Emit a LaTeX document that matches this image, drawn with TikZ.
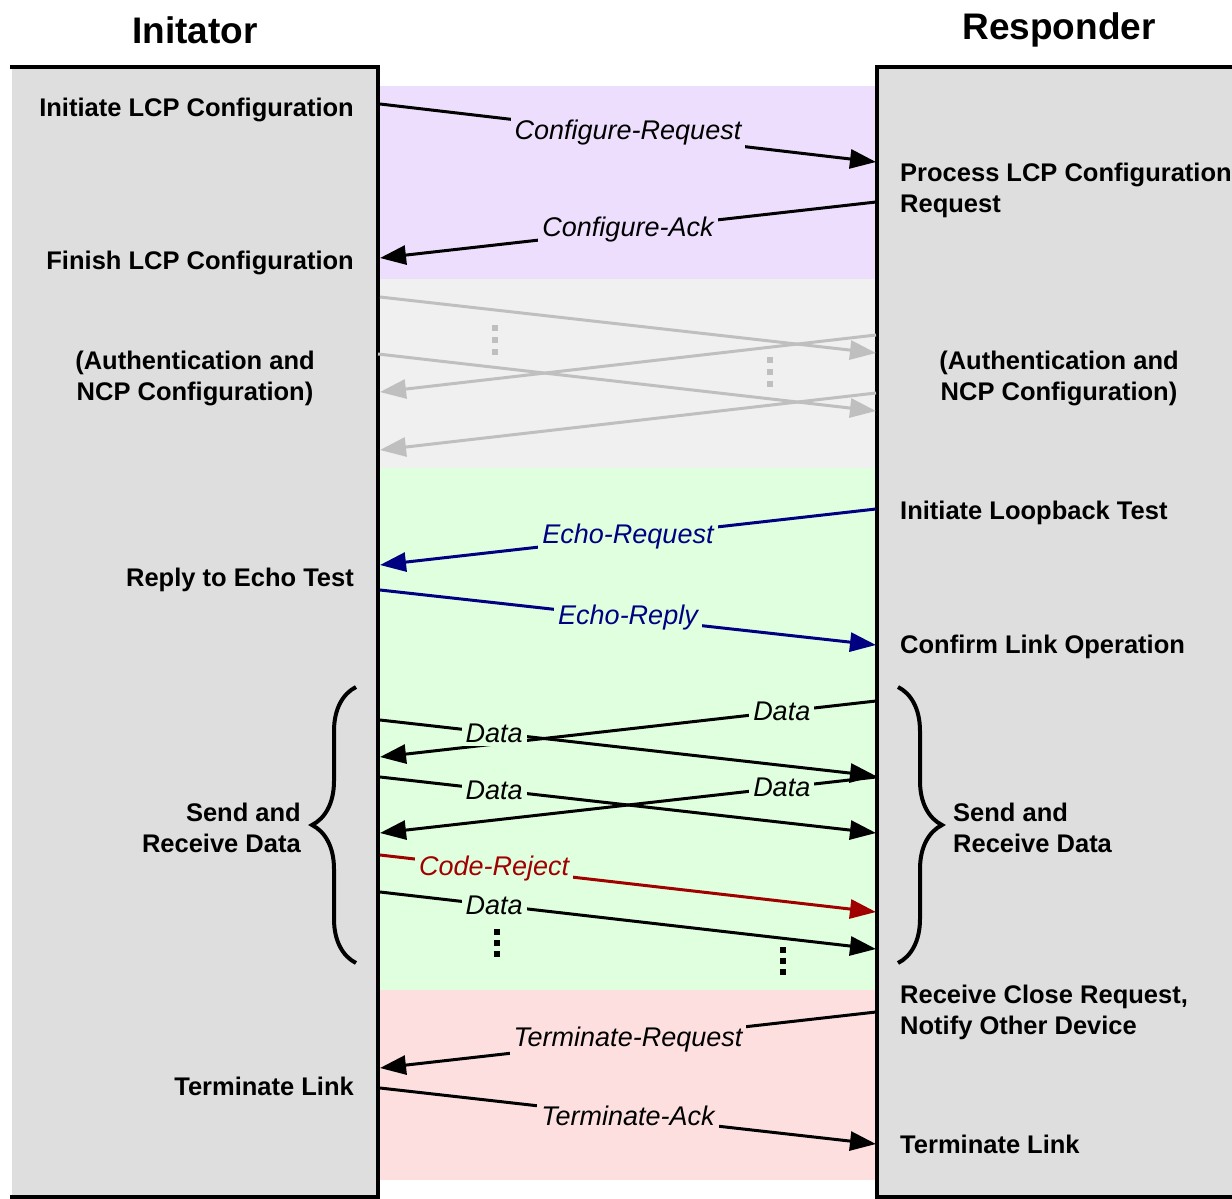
\documentclass[tikz,border=0pt]{standalone}
\usepackage{fontspec}
\setmainfont{Liberation Sans}
\usetikzlibrary{arrows.meta,decorations.pathreplacing}
\definecolor{boxgray}{HTML}{DEDEDE}
\definecolor{cfgband}{HTML}{EDDEFD}
\definecolor{authband}{HTML}{F0F0F0}
\definecolor{linkband}{HTML}{DFFFDF}
\definecolor{termband}{HTML}{FDDFDF}
\definecolor{msggray}{HTML}{BFBFBF}
\definecolor{echoblue}{HTML}{000080}
\definecolor{rejectred}{HTML}{A00000}

\begin{document}
\begin{tikzpicture}[x=1pt,y=-1pt,>={Triangle[length=26pt,width=19pt]},
  msg/.style={->,line width=3pt},
  side/.style={line width=4pt},
  head/.style={font=\bfseries\fontsize{37}{40}\selectfont},
  act node/.style={font=\bfseries\fontsize{25.5}{31}\selectfont,inner sep=0pt},
  lbl/.style={font=\itshape\fontsize{27}{30}\selectfont,inner xsep=4pt,inner ysep=4pt,fill=#1}]
    \useasboundingbox (0,0) rectangle (1232,1199);

    % phases between the two devices
    \fill[cfgband] (380,86) rectangle (876,279);
    \fill[authband] (380,279) rectangle (876,468);
    \fill[linkband] (380,468) rectangle (876,990);
    \fill[termband] (380,990) rectangle (876,1180);

    % the two devices
    \fill[boxgray] (12,67) rectangle (378,1197);
    \fill[boxgray] (877,67) rectangle (1232,1197);
    \draw[side] (10,67) -- (378,67) -- (378,1197) -- (10,1197);
    \draw[side] (1232,67) -- (877,67) -- (877,1197) -- (1232,1197);

    \node[head] (ini) at (195,30) {Initator};
    \node[head] (res) at (1059,30) {Responder};

    % initiator steps
    \node[act node,anchor=base east] (iniCfg) at (354,116) {Initiate LCP Configuration};
    \node[act node,anchor=base east] (finCfg) at (354,269) {Finish LCP Configuration};
    \node[act node,align=center] (iniAuth) at (195,378) {(Authentication and\\NCP Configuration)};
    \node[act node,anchor=base east] (echoRep) at (354,586) {Reply to Echo Test};
    \node[act node,anchor=east,align=right] (iniData) at (301,828) {Send and\\Receive Data};
    \node[act node,anchor=base east] (iniTerm) at (354,1095) {Terminate Link};

    % responder steps
    \node[act node,anchor=west,align=left] (procCfg) at (900,190) {Process LCP Configuration\\Request};
    \node[act node,align=center] (resAuth) at (1059,378) {(Authentication and\\NCP Configuration)};
    \node[act node,anchor=base west] (loopTest) at (900,519) {Initiate Loopback Test};
    \node[act node,anchor=base west] (confLink) at (900,653) {Confirm Link Operation};
    \node[act node,anchor=west,align=left] (resData) at (953,828) {Send and\\Receive Data};
    \node[act node,anchor=west,align=left] (closeReq) at (900,1012) {Receive Close Request,\\Notify Other Device};
    \node[act node,anchor=base west] (resTerm) at (900,1153) {Terminate Link};

    % points on the two lifelines
    \coordinate (i1) at (380,104);  \coordinate (r1) at (876,162);
    \coordinate (r2) at (876,202);  \coordinate (i2) at (380,258);
    \coordinate (i3) at (380,297);  \coordinate (r3) at (876,353);
    \coordinate (r4) at (876,335);  \coordinate (i4) at (380,392);
    \coordinate (i5) at (378,354);  \coordinate (r5) at (876,411);
    \coordinate (r6) at (876,393);  \coordinate (i6) at (380,450);
    \coordinate (r7) at (876,509);  \coordinate (i7) at (380,565);
    \coordinate (i8) at (380,590);  \coordinate (r8) at (876,645);
    \coordinate (r9) at (876,701);  \coordinate (i9) at (380,757);
    \coordinate (i10) at (380,720); \coordinate (r10) at (876,776);
    \coordinate (r11) at (876,777); \coordinate (i11) at (380,833);
    \coordinate (i12) at (380,777); \coordinate (r12) at (876,833);
    \coordinate (i13) at (380,855); \coordinate (r13) at (876,912);
    \coordinate (i14) at (380,892); \coordinate (r14) at (876,949);
    \coordinate (r15) at (876,1012); \coordinate (i15) at (380,1068);
    \coordinate (i16) at (380,1088); \coordinate (r16) at (876,1144);

    % messages
    \draw[msg] (i1) -- node[lbl=cfgband] {Configure-Request} (r1);
    \draw[msg] (r2) -- node[lbl=cfgband] {Configure-Ack} (i2);

    \draw[msg,msggray] (i3) -- (r3);
    \draw[msg,msggray] (r4) -- (i4);
    \draw[msg,msggray] (i5) -- (r5);
    \draw[msg,msggray] (r6) -- (i6);

    \draw[msg,echoblue] (r7) -- node[lbl=linkband,text=echoblue] {Echo-Request} (i7);
    \draw[msg,echoblue] (i8) -- node[lbl=linkband,text=echoblue] {Echo-Reply} (r8);

    \draw[msg] (r9) -- node[lbl=linkband,pos=0.19] {Data} (i9);
    \draw[msg] (i10) -- node[lbl=linkband,pos=0.23] {Data} (r10);
    \draw[msg] (r11) -- node[lbl=linkband,pos=0.19] {Data} (i11);
    \draw[msg] (i12) -- node[lbl=linkband,pos=0.23] {Data} (r12);
    \draw[msg,rejectred] (i13) -- node[lbl=linkband,pos=0.23,text=rejectred] {Code-Reject} (r13);
    \draw[msg] (i14) -- node[lbl=linkband,pos=0.23] {Data} (r14);

    \draw[msg] (r15) -- node[lbl=termband] {Terminate-Request} (i15);
    \draw[msg] (i16) -- node[lbl=termband] {Terminate-Ack} (r16);

    % more messages follow
    \fill[msggray] (492,325) rectangle +(6,6);
    \fill[msggray] (492,337) rectangle +(6,6);
    \fill[msggray] (492,349) rectangle +(6,6);
    \fill[msggray] (767,357) rectangle +(6,6);
    \fill[msggray] (767,369) rectangle +(6,6);
    \fill[msggray] (767,381) rectangle +(6,6);
    \fill (494,929) rectangle +(6,6);
    \fill (494,940) rectangle +(6,6);
    \fill (494,951) rectangle +(6,6);
    \fill (780,947) rectangle +(6,6);
    \fill (780,958) rectangle +(6,6);
    \fill (780,969) rectangle +(6,6);

    % data exchange braces
    \draw[line width=4pt,decorate,decoration={brace,amplitude=44pt}] (356,963) -- (356,687);
    \draw[line width=4pt,decorate,decoration={brace,amplitude=44pt}] (898,687) -- (898,963);
\end{tikzpicture}
\end{document}
